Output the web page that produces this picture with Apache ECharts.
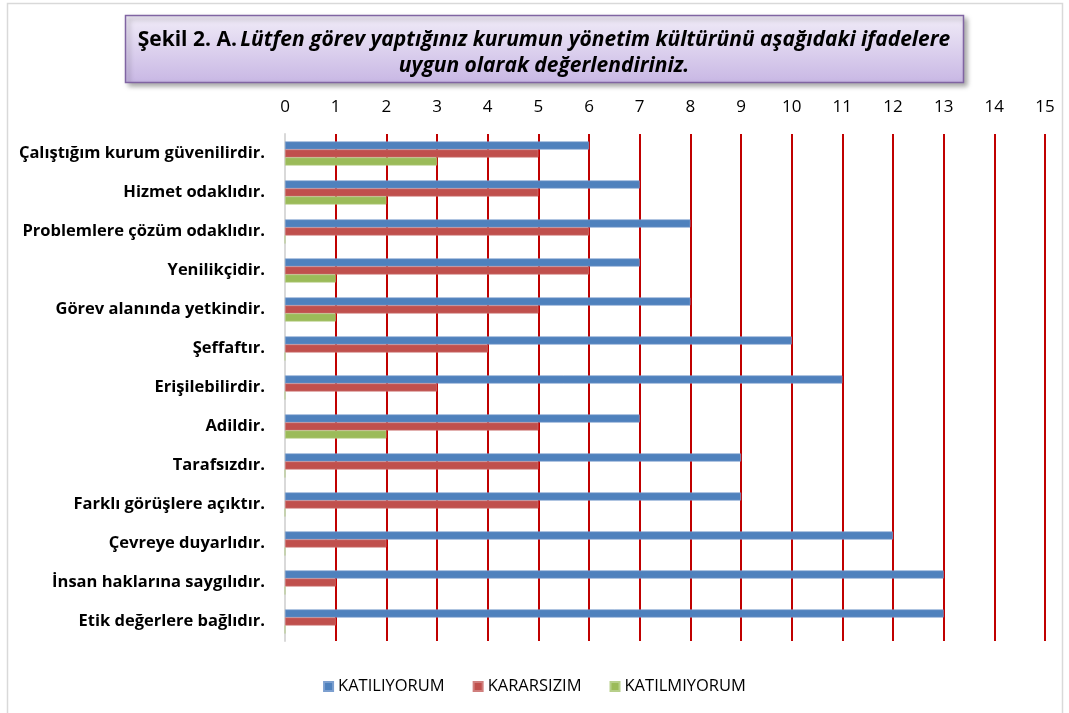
<!DOCTYPE html>
<html>
<head>
<meta charset="utf-8">
<script src="https://cdn.jsdelivr.net/npm/echarts@6/dist/echarts.min.js"></script>
<style>
html,body{margin:0;padding:0;background:#fff;}
#chart{width:1069px;height:713px;}
</style>
</head>
<body>
<div id="chart"></div>
<script>
const categories = [
  "Çalıştığım kurum güvenilirdir.",
  "Hizmet odaklıdır.",
  "Problemlere çözüm odaklıdır.",
  "Yenilikçidir.",
  "Görev alanında yetkindir.",
  "Şeffaftır.",
  "Erişilebilirdir.",
  "Adildir.",
  "Tarafsızdır.",
  "Farklı görüşlere açıktır.",
  "Çevreye duyarlıdır.",
  "İnsan haklarına saygılıdır.",
  "Etik değerlere bağlıdır."
];
const seriesNames = ["KATILIYORUM", "KARARSIZIM", "KATILMIYORUM"];
const katiliyorum = [6, 7, 8, 7, 8, 10, 11, 7, 9, 9, 12, 13, 13];
const kararsizim = [5, 5, 6, 6, 5, 4, 3, 5, 5, 5, 2, 1, 1];
const katilmiyorum = [3, 2, 0, 1, 1, 0, 0, 2, 0, 0, 0, 0, 0];
const titleLine1a = "Şekil 2. A.";
const titleLine1b = "Lütfen görev yaptığınız kurumun yönetim kültürünü aşağıdaki ifadelere";
const titleLine2 = "uygun olarak değerlendiriniz.";

const FONT = "'Open Sans', sans-serif";
const colors = ["#4F81BD", "#C0504D", "#9BBB59"];
const borders = ["#7C9FCF", "#D07F7D", "#B7CF8A"];

const chart = echarts.init(document.getElementById('chart'), null, {renderer: 'canvas'});
const mk = (i, data) => ({
  name: seriesNames[i],
  type: 'bar',
  data: data,
  barWidth: 8,
  barGap: '0%',
  itemStyle: {color: colors[i], borderColor: borders[i], borderWidth: 0.6},
  emphasis: {disabled: true},
  animation: false
});
chart.setOption({
  animation: false,
  textStyle: {fontFamily: FONT},
  grid: {left: 285, right: 24, top: 134, bottom: 72, containLabel: false},
  graphic: [
    {type: 'rect', shape: {x: 7.5, y: 3.5, width: 1055, height: 712}, style: {fill: 'none', stroke: '#D9D9D9', lineWidth: 1.5}, z: 0, silent: true},
    {type: 'rect', shape: {x: 125.5, y: 15.5, width: 838, height: 67},
     style: {
       fill: new echarts.graphic.LinearGradient(0, 0, 0, 1, [{offset: 0, color: '#F1ECF8'}, {offset: 1, color: '#C8B7E4'}]),
       stroke: '#8064A2', lineWidth: 1.5,
       shadowBlur: 5, shadowOffsetX: 3, shadowOffsetY: 3, shadowColor: 'rgba(0,0,0,0.35)'
     }, z: 10, silent: true},
    {type: 'text', x: 544, y: 40, z: 11, silent: true,
     style: {
       text: '{a|' + titleLine1a + '} {b|' + titleLine1b + '}',
       align: 'center', verticalAlign: 'middle',
       rich: {
         a: {fontFamily: FONT, fontWeight: 'bold', fontSize: 21, fill: '#000', color: '#000'},
         b: {fontFamily: FONT, fontWeight: 'bold', fontStyle: 'italic', fontSize: 21, fill: '#000', color: '#000'}
       }
     }},
    {type: 'text', x: 544, y: 66, z: 11, silent: true,
     style: {
       text: titleLine2, align: 'center', verticalAlign: 'middle',
       font: 'italic bold 21px ' + FONT, fill: '#000'
     }}
  ],
  legend: {
    bottom: 13, left: 'center',
    itemWidth: 9, itemHeight: 9, itemGap: 28,
    icon: 'rect',
    textStyle: {fontSize: 16.5, color: '#000', fontFamily: FONT, padding: [0, 0, 0, 0]},
    data: seriesNames
  },
  xAxis: {
    type: 'value', position: 'top', min: 0, max: 15, interval: 1,
    axisLine: {show: false}, axisTick: {show: false},
    axisLabel: {fontSize: 17, color: '#000', margin: 18, fontFamily: FONT},
    splitLine: {show: true, lineStyle: {color: '#C00000', width: 2}}
  },
  yAxis: {
    type: 'category', data: categories, inverse: true,
    axisLine: {show: true, lineStyle: {color: '#D9D9D9', width: 2}},
    axisTick: {show: false},
    axisLabel: {fontSize: 16.5, fontWeight: 'bold', color: '#000', margin: 20, fontFamily: FONT}
  },
  series: [mk(0, katiliyorum), mk(1, kararsizim), mk(2, katilmiyorum)]
});
</script>
</body>
</html>
